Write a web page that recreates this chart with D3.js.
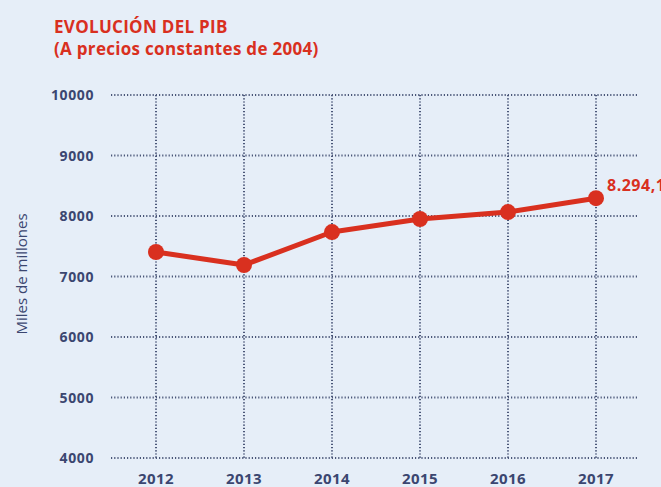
<!DOCTYPE html>
<html>
<head>
<meta charset="utf-8">
<script src="https://cdn.jsdelivr.net/npm/d3@7"></script>
<style>
  html, body { margin: 0; padding: 0; background: #e6eef8; }
  svg { display: block; }
</style>
</head>
<body>
<div id="chart"></div>
<script>
// Data
var years = ["2012", "2013", "2014", "2015", "2016", "2017"];
var pib = [7405, 7190, 7735, 7950, 8065, 8294.1];
var yTicks = [4000, 5000, 6000, 7000, 8000, 9000, 10000];
var lastLabel = "8.294,1";

var W = 661, H = 487;
var red = "#d9301f", ink = "#3b4670";

var svg = d3.select("#chart").append("svg")
    .attr("width", W)
    .attr("height", H)
    .style("font-family", "'Open Sans', Lato, sans-serif");

svg.append("rect").attr("width", W).attr("height", H).attr("fill", "#e6eef8");

// Title
svg.append("text")
    .attr("x", 54).attr("y", 33)
    .attr("fill", red)
    .style("font-size", "17px").style("font-weight", "bold")
    .style("letter-spacing", "0.3px")
    .text("EVOLUCIÓN DEL PIB");
svg.append("text")
    .attr("x", 54).attr("y", 55)
    .attr("fill", red)
    .style("font-size", "17px").style("font-weight", "bold")
    .style("letter-spacing", "0.3px")
    .text("(A precios constantes de 2004)");

// Scales
var x = d3.scalePoint().domain(years).range([156, 596]);
var y = d3.scaleLinear().domain([4000, 10000]).range([458, 95]);

// Horizontal grid
svg.selectAll(".hgrid")
    .data(yTicks)
    .enter().append("line")
    .attr("class", "hgrid")
    .attr("x1", 111).attr("x2", 638)
    .attr("y1", d => y(d)).attr("y2", d => y(d))
    .attr("stroke", "#4a5678")
    .attr("stroke-width", 2)
    .attr("stroke-dasharray", "1.2,2");

// Vertical grid
svg.selectAll(".vgrid")
    .data(years)
    .enter().append("line")
    .attr("class", "vgrid")
    .attr("x1", d => x(d)).attr("x2", d => x(d))
    .attr("y1", y(10000)).attr("y2", y(4000))
    .attr("stroke", "#4a5678")
    .attr("stroke-width", 2)
    .attr("stroke-dasharray", "1.2,2");

// Y tick labels
svg.selectAll(".ylab")
    .data(yTicks)
    .enter().append("text")
    .attr("class", "ylab")
    .attr("x", 94)
    .attr("y", d => y(d) + 5)
    .attr("text-anchor", "end")
    .attr("fill", ink)
    .style("font-size", "14px").style("font-weight", "bold")
    .style("letter-spacing", "0.6px")
    .text(d => d);

// X tick labels
svg.selectAll(".xlab")
    .data(years)
    .enter().append("text")
    .attr("class", "xlab")
    .attr("x", d => x(d))
    .attr("y", 484)
    .attr("text-anchor", "middle")
    .attr("fill", ink)
    .style("font-size", "15px").style("font-weight", "bold")
    .style("letter-spacing", "0.4px")
    .text(d => d);

// Y axis title
svg.append("text")
    .attr("transform", "translate(27,274) rotate(-90)")
    .attr("text-anchor", "middle")
    .attr("fill", ink)
    .style("font-size", "15px")
    .text("Miles de millones");

// Line
var line = d3.line()
    .x((d, i) => x(years[i]))
    .y(d => y(d));

svg.append("path")
    .datum(pib)
    .attr("d", line)
    .attr("fill", "none")
    .attr("stroke", red)
    .attr("stroke-width", 5)
    .attr("stroke-linejoin", "round");

svg.selectAll(".dot")
    .data(pib)
    .enter().append("circle")
    .attr("class", "dot")
    .attr("cx", (d, i) => x(years[i]))
    .attr("cy", d => y(d))
    .attr("r", 8)
    .attr("fill", red);

// Last value label
svg.append("text")
    .attr("x", x(years[years.length - 1]) + 11)
    .attr("y", y(pib[pib.length - 1]) - 7)
    .attr("fill", red)
    .style("font-size", "16px").style("font-weight", "bold")
    .style("letter-spacing", "0.5px")
    .text(lastLabel);
</script>
</body>
</html>
